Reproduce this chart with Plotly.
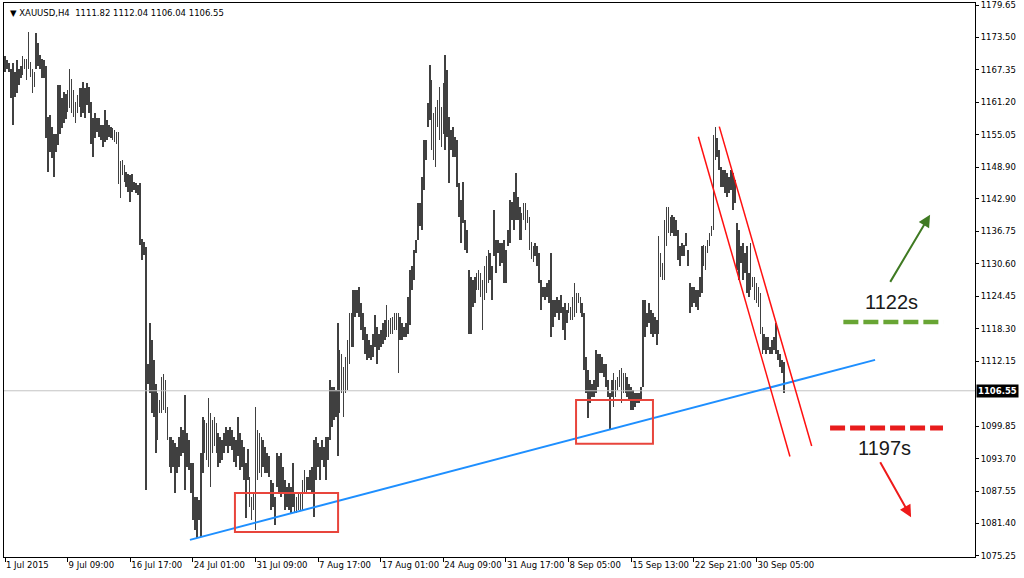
import plotly.graph_objects as go

# ---------------- data ----------------
highs = [
1169.9,1169.2,1168.6,1167.6,1168.6,1167.0,1169.2,1167.6,1168.0,1169.9,
1169.5,1169.5,1174.6,1168.9,1167.6,1167.0,1174.3,1172.4,1170.2,1169.5,
1169.2,1168.0,1158.5,1158.8,1156.6,1155.3,1155.3,1164.5,1164.5,1162.0,
1163.2,1162.8,1163.5,1167.6,1165.7,1163.5,1161.3,1162.6,1163.9,1163.9,
1165.1,1163.9,1164.8,1164.2,1161.3,1158.2,1159.1,1158.2,1158.2,1156.9,
1156.9,1159.7,1157.9,1156.9,1156.6,1156.3,1156.0,1155.6,1155.6,1150.0,
1150.3,1149.3,1148.1,1147.7,1147.4,1147.7,1146.2,1145.9,1145.5,1145.9,
1135.4,1134.8,1133.8,1111.7,1119.3,1116.2,1112.4,1107.9,1106.1,1104.8,
1109.2,1109.8,1108.6,1103.5,1097.8,1097.8,1097.2,1096.6,1095.9,1097.8,
1099.7,1099.1,1105.7,1098.5,1097.2,1092.8,1092.8,1086.5,1086.5,1085.8,
1094.7,1101.6,1101.0,1100.4,1105.1,1102.3,1101.0,1101.6,1100.4,1098.5,
1097.8,1097.2,1098.5,1099.7,1099.1,1099.7,1099.1,1097.8,1097.2,1101.6,
1098.5,1097.2,1095.9,1092.8,1095.6,1090.3,1086.5,1087.1,1103.5,1099.1,
1098.5,1097.8,1097.2,1095.9,1094.7,1094.1,1089.6,1089.0,1086.5,1094.7,
1094.1,1094.7,1092.2,1089.6,1088.4,1089.0,1088.4,1092.8,1087.1,1086.5,
1087.1,1087.1,1089.6,1091.5,1090.3,1090.3,1091.5,1092.2,1097.2,1097.8,
1096.6,1095.9,1097.2,1095.9,1097.8,1097.8,1108.6,1107.3,1107.3,1106.7,
1119.3,1114.3,1113.6,1111.1,1113.0,1116.2,1121.2,1121.2,1125.6,1125.6,
1125.6,1126.3,1123.1,1121.2,1118.7,1117.4,1116.2,1115.2,1117.4,1120.9,
1118.7,1117.4,1118.1,1119.3,1120.0,1122.8,1120.0,1120.3,1120.6,1121.2,
1121.2,1121.2,1120.6,1119.3,1118.7,1119.3,1124.4,1129.4,1130.1,1133.2,
1135.1,1142.1,1142.1,1147.1,1154.1,1154.1,1161.0,1168.3,1165.4,1159.1,
1160.4,1161.7,1164.2,1160.4,1164.8,1170.2,1167.3,1158.5,1156.0,1156.6,
1154.7,1154.1,1145.9,1142.7,1146.2,1138.9,1137.0,1129.4,1128.2,1127.5,
1128.2,1128.8,1129.4,1128.8,1127.5,1130.1,1132.0,1133.2,1132.6,1130.1,
1140.8,1135.1,1135.1,1134.5,1134.5,1135.1,1133.2,1137.0,1142.7,1142.4,
1144.3,1147.8,1143.3,1141.4,1140.2,1142.1,1142.1,1140.8,1139.5,1134.8,
1133.9,1134.5,1133.9,1132.6,1127.5,1126.3,1126.3,1126.9,1127.5,1132.6,
1123.8,1123.8,1124.4,1123.8,1124.7,1122.5,1123.1,1121.9,1123.1,1122.5,
1124.4,1126.9,1125.0,1125.0,1124.4,1123.1,1121.2,1113.0,1110.5,1108.6,
1107.9,1108.6,1114.3,1113.6,1113.6,1113.0,1111.7,1111.7,1108.6,1106.1,
1108.6,1109.9,1108.6,1109.2,1110.5,1110.8,1109.9,1109.9,1109.2,1107.9,
1107.3,1106.7,1106.1,1106.1,1106.1,1107.3,1123.8,1123.8,1121.2,1123.1,
1121.9,1121.2,1120.6,1120.0,1135.8,1132.6,1130.7,1138.9,1141.4,1141.4,
1139.5,1139.9,1139.5,1138.9,1137.0,1133.9,1134.5,1134.2,1136.4,1133.2,
1126.9,1126.3,1126.3,1125.6,1125.6,1128.2,1133.9,1134.2,1133.9,1135.1,
1136.4,1137.7,1155.0,1156.6,1154.4,1152.2,1149.0,1148.4,1148.4,1147.8,
1147.1,1148.4,1147.8,1146.5,1138.3,1137.0,1133.9,1134.5,1132.6,1133.9,
1128.8,1134.5,1128.2,1128.2,1126.9,1126.3,1125.0,1118.7,1117.4,1116.8,
1116.8,1114.9,1116.2,1116.8,1119.3,1114.3,1113.6,1112.4,1112.04,
]
lows = [
1167.0,1167.6,1167.0,1162.0,1156.9,1162.3,1162.9,1164.5,1165.8,1166.4,
1167.6,1165.4,1167.6,1166.1,1162.9,1164.2,1167.6,1168.0,1167.6,1165.8,
1165.8,1154.4,1148.1,1151.8,1150.6,1147.1,1151.8,1153.1,1155.3,1156.3,
1157.2,1158.0,1159.4,1160.1,1159.1,1158.5,1157.2,1159.1,1160.4,1158.5,
1159.1,1158.2,1160.7,1159.1,1153.4,1150.9,1154.4,1155.6,1154.7,1154.1,
1152.8,1153.7,1154.1,1154.7,1154.4,1154.0,1153.7,1153.4,1145.8,1143.0,
1147.4,1146.2,1145.2,1144.3,1142.4,1144.3,1144.6,1144.0,1143.6,1134.2,
1131.3,1132.3,1087.7,1107.9,1106.1,1102.3,1101.6,1094.7,1097.2,1102.3,
1102.3,1102.9,1102.3,1097.2,1092.2,1090.9,1092.2,1087.1,1090.9,1092.2,
1094.1,1094.7,1087.7,1092.2,1091.5,1087.1,1082.1,1080.2,1078.6,1082.1,
1078.9,1090.9,1094.7,1093.4,1092.2,1088.4,1094.7,1096.0,1094.7,1092.2,
1092.8,1093.4,1094.7,1096.0,1094.7,1096.0,1095.3,1093.1,1092.2,1094.1,
1091.5,1092.2,1089.6,1082.4,1089.6,1084.6,1082.1,1084.0,1080.2,1089.6,
1090.9,1090.3,1092.2,1090.9,1090.9,1090.3,1083.9,1084.6,1081.1,1088.4,
1087.1,1086.5,1087.1,1083.9,1084.6,1083.9,1083.3,1084.6,1083.3,1083.3,
1084.0,1084.0,1084.0,1087.1,1087.1,1087.7,1087.7,1087.1,1082.7,1089.6,
1092.2,1089.6,1093.4,1092.2,1089.6,1093.4,1097.2,1099.7,1101.0,1101.6,
1094.1,1102.3,1106.1,1101.6,1106.1,1106.7,1111.7,1114.9,1114.9,1120.6,
1121.2,1120.6,1118.1,1116.2,1113.6,1112.4,1112.7,1112.4,1113.0,1114.9,
1111.7,1114.3,1114.9,1115.5,1116.2,1116.8,1116.8,1117.4,1117.4,1118.1,
1118.1,1109.9,1116.2,1116.2,1116.8,1116.8,1117.4,1119.0,1125.6,1127.5,
1132.6,1135.1,1137.7,1137.0,1144.6,1150.3,1156.6,1157.9,1152.2,1150.3,
1149.0,1156.6,1154.1,1152.8,1155.3,1152.2,1154.7,1145.9,1152.2,1150.9,
1150.9,1145.2,1139.5,1134.5,1138.3,1133.2,1132.6,1117.4,1117.4,1122.5,
1123.1,1125.6,1125.6,1124.4,1118.1,1123.8,1125.0,1126.9,1127.5,1123.8,
1132.0,1128.8,1132.6,1130.1,1130.7,1126.9,1126.9,1133.9,1134.5,1138.9,
1137.0,1138.9,1138.9,1135.1,1135.1,1138.9,1137.0,1138.3,1133.2,1131.6,
1131.0,1132.0,1130.1,1126.9,1121.9,1124.4,1123.8,1124.4,1123.1,1116.8,
1118.7,1120.6,1121.2,1120.0,1121.2,1118.1,1116.2,1119.3,1121.2,1120.0,
1120.0,1120.6,1121.2,1123.1,1121.2,1120.6,1110.5,1106.1,1101.3,1104.2,
1105.4,1105.4,1106.1,1107.3,1109.9,1109.9,1109.2,1107.3,1105.4,1099.1,
1105.4,1103.5,1105.4,1106.7,1107.3,1104.2,1106.1,1106.1,1105.4,1104.8,
1102.9,1102.9,1103.5,1104.2,1104.2,1104.8,1107.3,1116.8,1118.7,1119.3,
1117.4,1116.8,1117.4,1115.2,1117.4,1128.2,1127.5,1127.5,1133.9,1136.4,
1135.8,1136.4,1135.8,1135.8,1131.3,1130.1,1132.0,1132.0,1133.9,1130.1,
1121.2,1122.5,1123.1,1122.5,1121.9,1124.4,1125.0,1130.1,1129.4,1132.6,
1133.9,1135.8,1137.0,1150.3,1150.9,1148.4,1145.2,1145.2,1144.0,1143.3,
1144.0,1144.6,1140.8,1142.1,1129.4,1127.5,1130.7,1127.5,1128.8,1125.0,
1124.4,1125.6,1126.3,1123.8,1123.1,1122.5,1117.4,1113.6,1114.3,1113.6,
1114.3,1113.6,1113.6,1114.3,1113.6,1112.4,1111.1,1109.9,1106.04,
]

time_labels = ["1 Jul 2015", "9 Jul 09:00", "16 Jul 17:00", "24 Jul 01:00",
               "31 Jul 09:00", "7 Aug 17:00", "17 Aug 01:00", "24 Aug 09:00",
               "31 Aug 17:00", "8 Sep 05:00", "15 Sep 13:00", "22 Sep 21:00",
               "30 Sep 05:00"]
bars_per_label = 32

price_ticks = [1179.65, 1173.50, 1167.35, 1161.20, 1155.05, 1148.90, 1142.90,
               1136.75, 1130.60, 1124.45, 1118.30, 1112.15, 1099.85, 1093.70,
               1087.55, 1081.40, 1075.25]
last_price = 1106.55
header = "XAUUSD,H4  1111.82 1112.04 1106.04 1106.55"

# drawings (bar index, price)
trend_blue = [(94.5, 1078.3), (444.6, 1112.4)]
channel_a = [(354.3, 1154.7), (401.1, 1094.1)]
channel_b = [(365.0, 1156.6), (412.2, 1096.1)]
box_1 = [(117.5, 1087.2), (170.2, 1079.8)]
box_2 = [(291.8, 1104.8), (331.1, 1096.5)]
level_up = [(428.4, 479.5), 1119.6]
level_dn = [(421.6, 479.3), 1099.5]
arrow_up = [(451.9, 1126.9), (472.7, 1139.9)]
arrow_dn = [(446.8, 1093.3), (463.0, 1082.6)]
label_up = (453.2, 1123.4, "1122s")
label_dn = (449.2, 1095.7, "1197s")

# ---------------- figure ----------------
idx = list(range(len(highs)))
spans = [h - l for h, l in zip(highs, lows)]

fig = go.Figure()
fig.add_trace(go.Bar(x=idx, y=spans, base=lows, width=0.36,
                     marker=dict(color="#404040", line=dict(width=0)),
                     hoverinfo="skip"))

FONT = "DejaVu Sans"
shapes = []
shapes.append(dict(type="line", xref="paper", yref="y", x0=0, x1=1,
                   y0=last_price, y1=last_price,
                   line=dict(color="#c4c4c4", width=1)))
for (p0, p1), col, w in [(trend_blue, "#1e8fff", 2),
                         (channel_a, "#ff1010", 1.5),
                         (channel_b, "#ff1010", 1.5)]:
    shapes.append(dict(type="line", xref="x", yref="y", x0=p0[0], y0=p0[1],
                       x1=p1[0], y1=p1[1], line=dict(color=col, width=w)))
for b in (box_1, box_2):
    shapes.append(dict(type="rect", xref="x", yref="y", x0=b[0][0], y0=b[0][1],
                       x1=b[1][0], y1=b[1][1],
                       line=dict(color="#e8453c", width=2)))
shapes.append(dict(type="line", xref="x", yref="y", x0=level_up[0][0],
                   x1=level_up[0][1], y0=level_up[1], y1=level_up[1],
                   line=dict(color="#68a534", width=4.5, dash="15px,5px")))
shapes.append(dict(type="line", xref="x", yref="y", x0=level_dn[0][0],
                   x1=level_dn[0][1], y0=level_dn[1], y1=level_dn[1],
                   line=dict(color="#e81c1c", width=5, dash="15px,5px")))

annotations = []
for (t, h), col in [(arrow_up, "#3f7a22"), (arrow_dn, "#ee1a1a")]:
    annotations.append(dict(x=h[0], y=h[1], ax=t[0], ay=t[1], xref="x", yref="y",
                            axref="x", ayref="y", text="", showarrow=True,
                            arrowhead=2, arrowsize=1.2, arrowwidth=2,
                            arrowcolor=col))
for lx, ly, txt in (label_up, label_dn):
    annotations.append(dict(x=lx, y=ly, xref="x", yref="y", text=txt,
                            showarrow=False,
                            font=dict(family="Liberation Sans", size=20,
                                      color="#1a1a1a")))
annotations.append(dict(x=1, y=last_price, xref="paper", yref="y",
                        xanchor="left", yanchor="middle", xshift=1,
                        text="<b>%.2f</b>" % last_price, showarrow=False,
                        bgcolor="#000000", borderpad=1,
                        font=dict(family=FONT, size=8.5, color="#ffffff")))
annotations.append(dict(x=0, y=1, xref="paper", yref="paper", xanchor="left",
                        yanchor="top", xshift=4, yshift=-3,
                        text="\u25BC " + header, showarrow=False,
                        font=dict(family=FONT, size=8.5, color="#000000")))

fig.update_layout(
    width=1024, height=578,
    margin=dict(l=4, r=49, t=3, b=21, autoexpand=False),
    paper_bgcolor="#ffffff", plot_bgcolor="#ffffff",
    showlegend=False, bargap=0,
    shapes=shapes, annotations=annotations,
    font=dict(family=FONT, size=8.5, color="#000000"),
)
fig.update_xaxes(range=[-0.51, 495.66], showgrid=False, zeroline=False,
                 showline=True, linecolor="#000000", linewidth=1, mirror=True,
                 ticks="outside", ticklen=4, tickcolor="#000000",
                 tickvals=[k * bars_per_label for k in range(len(time_labels))],
                 ticktext=time_labels, ticklabelposition="outside right",
                 tickangle=0, automargin=False, ticklabeloverflow="allow",
                 tickfont=dict(family=FONT, size=8.5, color="#000000"))
fig.update_yaxes(range=[1075.05, 1180.03], side="right", showgrid=False,
                 zeroline=False, showline=True, linecolor="#000000",
                 linewidth=1, mirror=True, ticks="outside", ticklen=3,
                 tickcolor="#000000", tickvals=price_ticks, automargin=False,
                 ticktext=["%.2f" % v for v in price_ticks],
                 ticklabeloverflow="allow",
                 tickfont=dict(family=FONT, size=8.5, color="#000000"))

fig.write_html("out.html", config={"displayModeBar": False},
               post_script="document.body.style.margin='0';"
                           "document.body.style.padding='0';")
